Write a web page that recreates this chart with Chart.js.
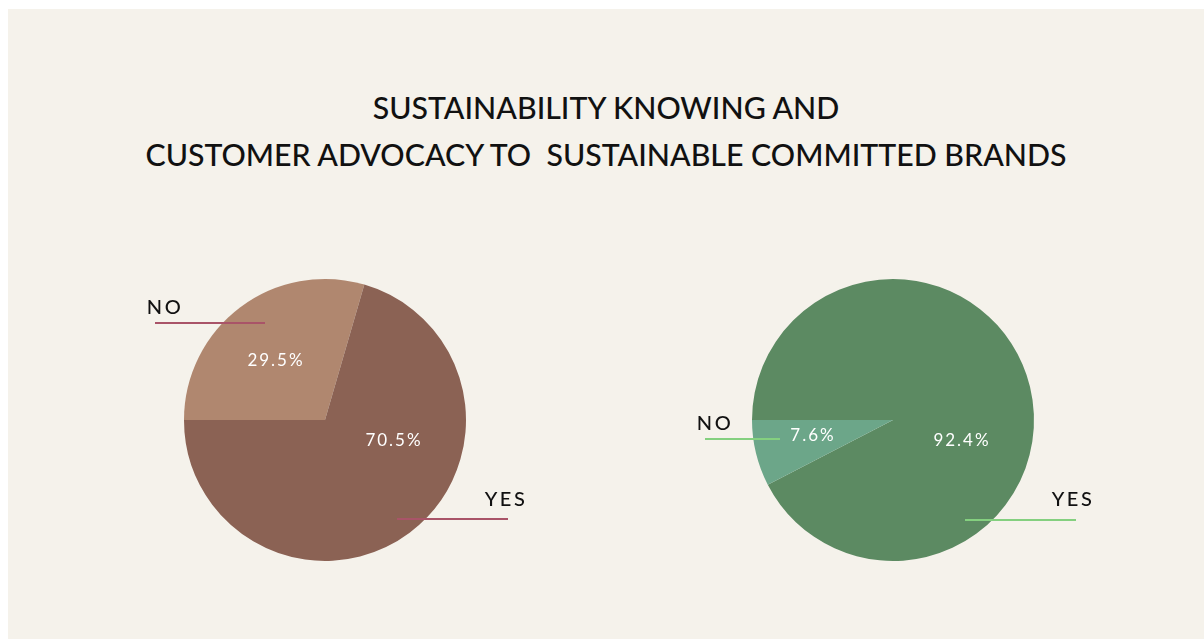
<!DOCTYPE html>
<html>
<head>
<meta charset="utf-8">
<script src="https://cdn.jsdelivr.net/npm/chart.js@4"></script>
<style>
  html, body { margin: 0; padding: 0; background: #ffffff; }
  body { width: 1204px; height: 639px; position: relative; overflow: hidden; }
  #panel {
    position: absolute; left: 8px; top: 9px; width: 1196px; height: 630px;
    background: #f5f2eb;
  }
  #title {
    position: absolute; left: 0; width: 1212px; top: 84px;
    text-align: center; font-family: Lato, sans-serif; font-size: 30.3px;
    font-weight: 500; line-height: 47px; color: #111111; white-space: pre;
  }
  .pie { position: absolute; top: 250px; width: 480px; height: 340px; }
  #leftPie { left: 85px; }
  #rightPie { left: 653px; }
</style>
</head>
<body>
<div id="panel"></div>
<div id="title">SUSTAINABILITY KNOWING AND
CUSTOMER ADVOCACY TO  SUSTAINABLE COMMITTED BRANDS</div>
<div class="pie" id="leftPie"><canvas id="leftChart"></canvas></div>
<div class="pie" id="rightPie"><canvas id="rightChart"></canvas></div>

<script>
// Sustainability knowing (left) and advocacy (right), in percent
const leftCategories = ['NO', 'YES'];
const leftValues = [29.5, 70.5];
const rightCategories = ['YES', 'NO'];
const rightValues = [92.4, 7.6];

// Label placement relative to the pie centre (px)
const leftLayout = {
    NO:  { pct: [-49, -59], name: [-160, -112], line: [-170, -60, -97] },
    YES: { pct: [69, 21],   name: [181, 80],    line: [72, 183, 99] }
};
const rightLayout = {
    YES: { pct: [69, 21],   name: [180, 80],    line: [72, 183, 100] },
    NO:  { pct: [-80, 16],  name: [-178, 4],    line: [-188, -113, 19] }
};

// Draws the percentage inside each slice plus the outer name with its leader line
const sliceLabels = {
    id: 'sliceLabels',
    afterDraw(chart, args, opts) {
        const ctx = chart.ctx;
        const meta = chart.getDatasetMeta(0);
        const arc = meta.data[0];
        const cx = arc.x, cy = arc.y;
        const values = chart.data.datasets[0].data;
        ctx.save();
        chart.data.labels.forEach((name, i) => {
            const pos = opts.layout[name];
            // leader line
            ctx.strokeStyle = opts.lineColor;
            ctx.lineWidth = 2;
            ctx.beginPath();
            ctx.moveTo(cx + pos.line[0], cy + pos.line[2]);
            ctx.lineTo(cx + pos.line[1], cy + pos.line[2]);
            ctx.stroke();
            // category name
            ctx.fillStyle = '#111111';
            ctx.font = '500 20px Lato, sans-serif';
            ctx.letterSpacing = '2.5px';
            ctx.textAlign = 'center';
            ctx.textBaseline = 'middle';
            ctx.fillText(name, cx + pos.name[0], cy + pos.name[1]);
            // percentage
            ctx.fillStyle = '#ffffff';
            ctx.font = '17px Lato, sans-serif';
            ctx.letterSpacing = '2px';
            ctx.fillText(values[i].toFixed(1) + '%', cx + pos.pct[0], cy + pos.pct[1]);
        });
        ctx.restore();
    }
};

function drawPie(canvasId, categories, values, colors, layout, lineColor) {
    const ctx = document.getElementById(canvasId).getContext('2d');
    new Chart(ctx, {
        type: 'pie',
        data: {
            labels: categories,
            datasets: [{
                data: values,
                backgroundColor: colors,
                borderWidth: 0
            }]
        },
        options: {
            responsive: true,
            maintainAspectRatio: false,
            animation: false,
            rotation: -90,
            layout: { padding: { top: 29, bottom: 29 } },
            plugins: {
                legend: { display: false },
                tooltip: { enabled: false },
                sliceLabels: { layout: layout, lineColor: lineColor }
            }
        },
        plugins: [sliceLabels]
    });
}

drawPie('leftChart', leftCategories, leftValues, ['#b0876f', '#8b6254'], leftLayout, '#a95468');
drawPie('rightChart', rightCategories, rightValues, ['#5c8a62', '#6ca689'], rightLayout, '#84d07f');
</script>
</body>
</html>
